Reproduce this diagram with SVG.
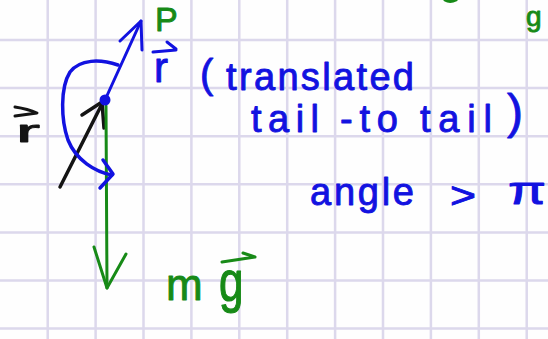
<svg xmlns="http://www.w3.org/2000/svg" width="548" height="339" viewBox="0 0 548 339">
<style>
.grid{stroke:#dcd8ec;stroke-width:2.5;fill:none}
.ink{fill:none;stroke-linecap:round;stroke-linejoin:round}
.blue{stroke:#1212e0}
.green{stroke:#178a17}
.black{stroke:#141414}
text{font-family:"Liberation Sans","DejaVu Sans",sans-serif;stroke-width:0.9;stroke-linejoin:round}
.tb{fill:#1212e0;stroke:#1212e0}
.tg{fill:#178a17;stroke:#178a17}
.tk{fill:#141414;stroke:#141414}
</style>
<rect width="548" height="339" fill="#fefefe"/>
<g id="grid" class="grid">
<path d="M47.7,0V339M95.6,0V339M143.5,0V339M191.4,0V339M239.3,0V339M287.2,0V339M335.1,0V339M383,0V339M430.9,0V339M478.8,0V339M526.7,0V339"/>
<path d="M0,40H548M0,88.1H548M0,136.2H548M0,184.3H548M0,232.4H548M0,280.5H548M0,328.6H548"/>
</g>
<g id="connectors">
<g id="black-r-arrow" class="ink black" stroke-width="3.5">
<path d="M60,187L103,102"/>
<path d="M82,115L102,102L104,128"/>
</g>
<g id="blue-r-arrow" class="ink blue" stroke-width="3">
<path d="M105,100L141,21"/>
<path d="M120,41L141,21L142,50"/>
</g>
<g id="green-mg-arrow" class="ink green" stroke-width="3">
<path d="M106,106L107,288"/>
<path d="M94,247L107,288L126,254"/>
</g>
<g id="blue-angle-arc" class="ink blue" stroke-width="3.5">
<path d="M118,65C100,59 80,59 70,72C60,88 61,120 68,140C76,160 95,172 112,175"/>
<path d="M103,160L113,174L100,188"/>
</g>
</g>
<g id="pivot-dot"><circle cx="105" cy="100" r="5.5" fill="#1212e0"/></g>
<g id="label-r-black">
<path class="ink black" stroke-width="3" d="M15,107Q28,109 37,113L15,116"/>
<text class="tk" x="16" y="142" font-size="32" textLength="24" lengthAdjust="spacingAndGlyphs" stroke-width="0.3">r</text>
</g>
<g id="label-r-blue">
<path class="ink blue" stroke-width="3" d="M153,52L176,50M167,42L176,49"/>
<text class="tb" x="154" y="82" font-size="42">r</text>
</g>
<g id="label-p"><text class="tg" x="155" y="31" font-size="34">P</text></g>
<g id="label-g-top">
<text class="tg" x="526" y="26" font-size="28">g</text>
<path class="ink green" stroke-width="3" d="M445,0Q450,3 456,0"/>
</g>
<g id="label-translated">
<text class="tb" x="200" y="88" font-size="40">(</text>
<text class="tb" x="226" y="90" font-size="38" textLength="188">translated</text>
<text class="tb" x="251" y="132" font-size="38" textLength="68">tail</text>
<text class="tb" x="340" y="132" font-size="38" textLength="58">-to</text>
<text class="tb" x="420" y="132" font-size="38" textLength="72">tail</text>
<text class="tb" x="507" y="128" font-size="48">)</text>
</g>
<g id="label-angle">
<text class="tb" x="310" y="205" font-size="38" textLength="104">angle</text>
<text class="tb" x="450" y="208" font-size="36" textLength="26" lengthAdjust="spacingAndGlyphs">&gt;</text>
<text class="tb" x="508" y="204" font-size="38" textLength="38" lengthAdjust="spacingAndGlyphs" stroke-width="0">π</text>
</g>
<g id="label-mg">
<text class="tg" x="166" y="300" font-size="44" textLength="40">m</text>
<text class="tg" transform="translate(219,301) scale(1,1.3)" x="0" y="0" font-size="44">g</text>
<path class="ink green" stroke-width="3" d="M222,262L255,257M243,253L255,257"/>
</g>
</svg>
